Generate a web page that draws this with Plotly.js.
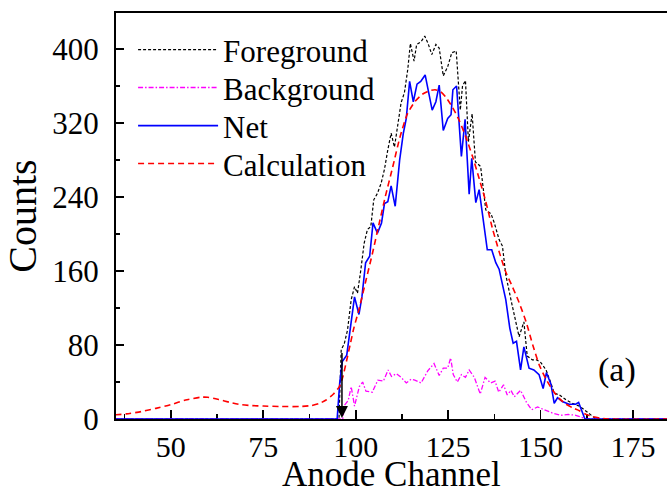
<!DOCTYPE html>
<html>
<head>
<meta charset="utf-8">
<script src="https://cdn.plot.ly/plotly-3.0.1.min.js"></script>
<style>
html, body { margin: 0; padding: 0; overflow: hidden; background: #fff; }
#chart { width: 667px; height: 491px; }
</style>
</head>
<body>
<div id="chart"></div>
<script>
// Foreground counts
var fgX = [35, 95.5, 96.1, 96.9, 97.8, 98.8, 99.7, 100.5, 101.4, 102.3, 103.2, 104.1, 104.9, 105.9, 106.9, 107.8, 108.7, 109.6, 110.5, 111.4, 112.3, 113.2, 114.1, 114.8, 115.8, 116.5, 117.7, 118.7, 119.6, 120.6, 121.7, 122.6, 123.7, 124.9, 126, 127.2, 128.3, 128.9, 129.7, 130.5, 131.5, 132.4, 133.8, 135.2, 136.6, 137.5, 138.8, 139.7, 140.6, 142, 142.9, 144.2, 145.5, 146.4, 147.8, 148.9, 150.1, 151.5, 152.8, 153.7, 155.1, 156.8, 158.6, 160.4, 161.5, 162.7, 164, 165, 190];
var fgY = [0, 0, 75, 81, 96, 129, 143, 136, 161, 190, 205, 208, 237, 244, 255, 270, 291, 309, 294, 316, 342, 353, 378, 406, 387, 405, 408, 414, 406, 394, 405, 401, 371, 381, 396, 398, 334, 360, 366, 300, 330, 278, 273, 226, 222, 212, 194, 187, 156, 129, 111, 89, 105, 68, 64, 64, 61, 53, 39, 28, 26, 21, 17, 14, 11, 7, 3, 0, 0];

// Background counts
var bgX = [35, 96.5, 97, 98, 98.8, 99.7, 101, 101.9, 102.8, 104.5, 106, 107.5, 108.8, 109.7, 111, 112.3, 113.7, 115, 116, 117.7, 119.5, 121.2, 122.6, 123.7, 124.9, 125.7, 126.4, 127.5, 128.6, 129.7, 130.7, 132.1, 133.7, 135, 136.5, 137.7, 138.7, 140, 141, 142, 142.9, 144.6, 146.2, 147.6, 149.2, 150.5, 152, 153.5, 155.5, 157.5, 159.5, 161, 162.5, 190];
var bgY = [0, 0, 15, 20, 35, 14, 35, 40, 30, 29, 42, 41, 53, 46, 49, 45, 39, 43, 42, 39, 52, 60, 47, 55, 55, 66, 48, 40, 48, 45, 53, 45, 27, 45, 39, 41, 29, 37, 26, 31, 24, 31, 18, 10, 13, 11, 9, 6, 4, 5, 4, 2, 0, 0];

// Net counts
var netX = [35, 95, 95.7, 96.4, 97.6, 98.5, 99.7, 100.9, 101.7, 102.7, 103.8, 104.7, 105.9, 107, 107.8, 108.7, 109.6, 110.7, 111.9, 112.9, 113.7, 114.6, 115.6, 116.6, 117.6, 118.8, 119.8, 120.7, 121.7, 122.6, 123.7, 124.9, 125.8, 126.3, 127.3, 128.6, 129.6, 130.7, 131.4, 132.5, 133.4, 135.6, 136.8, 137.9, 138.8, 140.6, 141.7, 142.6, 143.5, 144.6, 145.5, 146.9, 148.2, 149.6, 150.7, 151.6, 152.8, 153.7, 154.6, 155.9, 157.7, 159.5, 160.3, 161.4, 162, 190];
var netY = [0, 0, 39, 62, 69, 95, 132, 113, 132, 169, 176, 212, 201, 212, 233, 235, 252, 230, 280, 309, 325, 365, 343, 362, 365, 372, 352, 334, 343, 361, 312, 325, 329, 356, 360, 284, 324, 243, 282, 234, 248, 183, 183, 169, 162, 129, 98, 82, 84, 53, 78, 55, 53, 48, 33, 50, 38, 17, 23, 19, 16, 16, 18, 5, 0, 0];

// Calculation
var calcX = [35, 38, 42, 46, 50, 54, 58, 60, 63, 66, 69, 72, 75, 80, 85, 88, 90, 92, 94, 95.6, 96.5, 97.5, 98.5, 99.5, 101, 102.8, 104.6, 106.4, 108, 110, 112, 114, 116, 118, 120, 121.5, 123, 124.4, 126.2, 128, 129.8, 131.6, 133.4, 135.2, 137, 138.8, 140.6, 142.4, 144.2, 146.1, 147.9, 149.7, 151.5, 153.3, 155.1, 156.9, 158.7, 160.5, 162.3, 164.1, 166, 168, 190];
var calcY = [4.5, 5.5, 8, 11.5, 15.5, 20.5, 23.5, 23.5, 21, 18, 15.5, 14.5, 14, 13.5, 13.5, 14.5, 16.5, 20.5, 27, 35, 45, 62, 80, 98, 120, 150, 180, 212, 240, 272, 305, 330, 343, 351, 355, 356, 354, 348, 337, 323, 305, 284, 260, 235, 206, 181, 159, 143, 126, 105, 80, 58, 43, 31, 22, 16, 12, 9, 5, 2.5, 1, 0, 0];

var seriesNames = ["Foreground", "Background", "Net", "Calculation"];
var xTitle = "Anode Channel";
var yTitle = "Counts";
var xRange = [35.2, 184.2];
var yRange = [0, 439];
var thresholdChannel = 96.3;
var thresholdTop = 73;
var panelLabel = "(a)";

var FONT = "Liberation Serif, Times New Roman, serif";
var legendRows = [0.909, 0.8156, 0.7218, 0.6283];
var legendNames = ["legend", "legend2", "legend3", "legend4"];

var traces = [
  { x: fgX, y: fgY, name: seriesNames[0], legend: legendNames[0], mode: "lines", line: { color: "#000000", width: 1.2, dash: "3px,2px" } },
  { x: bgX, y: bgY, name: seriesNames[1], legend: legendNames[1], mode: "lines", line: { color: "#ff00ff", width: 1.3, dash: "5px,2px,1.5px,2px" } },
  { x: netX, y: netY, name: seriesNames[2], legend: legendNames[2], mode: "lines", line: { color: "#0000ff", width: 1.6 } },
  { x: calcX, y: calcY, name: seriesNames[3], legend: legendNames[3], mode: "lines", line: { color: "#ff0000", width: 1.6, dash: "6px,4px", shape: "spline", smoothing: 0.6 } }
];

function legendBox(yPos) {
  return {
    x: 0.031, xanchor: "left", y: yPos, yanchor: "middle",
    bgcolor: "rgba(0,0,0,0)", borderwidth: 0,
    font: { family: FONT, size: 31, color: "#000" },
    itemwidth: 80
  };
}

var layout = {
  width: 667, height: 491,
  margin: { l: 116, r: 0, t: 13, b: 72 },
  paper_bgcolor: "#ffffff", plot_bgcolor: "#ffffff",
  font: { family: FONT, color: "#000", size: 30 },
  showlegend: true,
  xaxis: {
    range: xRange, showgrid: false, zeroline: false,
    showline: true, linecolor: "#000", linewidth: 2, mirror: true,
    ticks: "inside", ticklen: 9, tickwidth: 1.8, tickcolor: "#000",
    dtick: 25, tick0: 0,
    minor: { dtick: 12.5, ticks: "inside", ticklen: 5, tickwidth: 1.5, tickcolor: "#000" },
    tickfont: { family: FONT, size: 30, color: "#000" },
    layer: "below traces"
  },
  yaxis: {
    range: yRange, showgrid: false, zeroline: false,
    showline: true, linecolor: "#000", linewidth: 2, mirror: false,
    ticks: "inside", ticklen: 8, tickwidth: 1.8, tickcolor: "#000",
    dtick: 80, tick0: 0,
    minor: { dtick: 40, ticks: "inside", ticklen: 4, tickwidth: 1.5, tickcolor: "#000" },
    tickfont: { family: FONT, size: 31, color: "#000" },
    ticklabelstandoff: 9,
    title: { text: yTitle, font: { family: FONT, size: 40, color: "#000" }, standoff: 10 }
  },
  annotations: [
    {
      x: 0.5, y: -0.137, xref: "paper", yref: "paper", xanchor: "center", yanchor: "middle",
      showarrow: false, text: xTitle, font: { family: FONT, size: 35, color: "#000" }
    },
    {
      x: thresholdChannel, y: 1, xref: "x", yref: "y",
      ax: thresholdChannel, ay: thresholdTop, axref: "x", ayref: "y",
      showarrow: true, arrowhead: 2, arrowsize: 1.6, arrowwidth: 1.5, arrowcolor: "#000", text: ""
    },
    {
      x: 170.6, y: 53, xref: "x", yref: "y", showarrow: false,
      text: panelLabel, font: { family: FONT, size: 34, color: "#000" }
    }
  ]
};
for (var i = 0; i < legendNames.length; i++) {
  layout[legendNames[i]] = legendBox(legendRows[i]);
}

Plotly.newPlot("chart", traces, layout, { displayModeBar: false, staticPlot: true });
</script>
</body>
</html>
